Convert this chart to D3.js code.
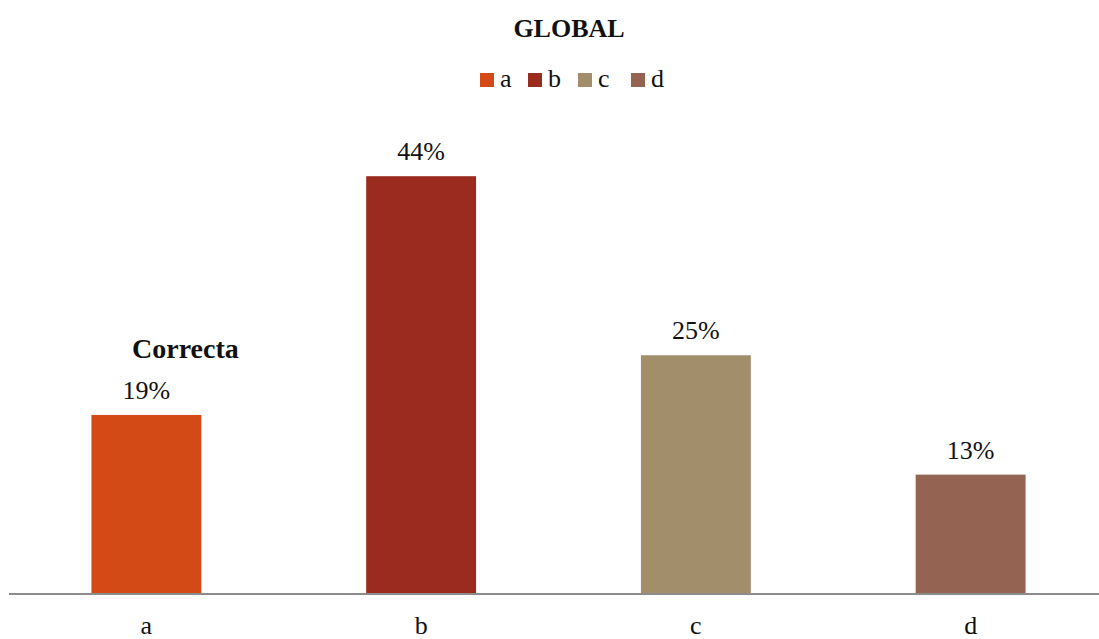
<!DOCTYPE html>
<html>
<head>
<meta charset="utf-8">
<script src="https://cdn.jsdelivr.net/npm/d3@7"></script>
<style>
  html, body { margin: 0; padding: 0; background: #fff; }
  svg { display: block; }
  svg text { font-family: "Liberation Serif", "DejaVu Serif", serif; }
</style>
</head>
<body>
<svg id="chart" width="1099" height="639"></svg>
<script>
const categories = ["a", "b", "c", "d"];
const values = [18.75, 43.75, 25, 12.5];
const valueLabels = ["19%", "44%", "25%", "13%"];
const colors = ["#D34A17", "#9B2B1F", "#A38E6B", "#946351"];
const title = "GLOBAL";
const correctLabel = "Correcta";
const correctCategory = "a";

const FONT = "Liberation Serif, DejaVu Serif, serif";
const svg = d3.select("#chart");
const baseY = 594;

const x = d3.scaleBand().domain(categories).range([9, 1108]).paddingInner(0.6).paddingOuter(0.3);
const y = d3.scaleLinear().domain([0, 50]).range([baseY, 116.5]);

// bars
svg.selectAll("rect.bar").data(categories).join("rect")
  .attr("class", "bar")
  .attr("x", d => x(d))
  .attr("width", x.bandwidth())
  .attr("y", (d, i) => y(values[i]))
  .attr("height", (d, i) => baseY - y(values[i]))
  .attr("fill", (d, i) => colors[i]);

// value labels
svg.selectAll("text.val").data(categories).join("text")
  .attr("class", "val")
  .attr("x", d => x(d) + x.bandwidth() / 2)
  .attr("y", (d, i) => y(values[i]) - 16)
  .attr("text-anchor", "middle")
  .attr("font-family", FONT)
  .attr("font-size", 26)
  .attr("fill", "#111")
  .text((d, i) => valueLabels[i]);

// Correcta
svg.append("text")
  .attr("x", x(correctCategory) + x.bandwidth() / 2 + 39)
  .attr("y", y(values[categories.indexOf(correctCategory)]) - 57)
  .attr("text-anchor", "middle")
  .attr("font-family", FONT)
  .attr("font-size", 28)
  .attr("font-weight", "bold")
  .attr("fill", "#111")
  .text(correctLabel);

// x axis
const xAxis = d3.axisBottom(x).tickSize(0).tickPadding(22);
const gx = svg.append("g").attr("transform", `translate(0,${baseY})`).call(xAxis);
gx.attr("font-family", FONT);
gx.select(".domain").attr("stroke", "#8c8c8c").attr("stroke-width", 2).attr("d", `M9,0H1099`);
gx.selectAll("text").attr("font-size", 26).attr("font-family", FONT).attr("fill", "#111");

// title
svg.append("text")
  .attr("x", 569).attr("y", 37)
  .attr("text-anchor", "middle")
  .attr("font-family", FONT)
  .attr("font-size", 26)
  .attr("font-weight", "bold")
  .attr("fill", "#111")
  .text(title);

// legend
const legend = svg.append("g").attr("transform", "translate(480,80)");
const legendX = [0, 48, 98, 151];
const items = legend.selectAll("g").data(categories).join("g")
  .attr("transform", (d, i) => `translate(${legendX[i]},0)`);
items.append("rect").attr("x", 0).attr("y", -7).attr("width", 14).attr("height", 14)
  .attr("fill", (d, i) => colors[i]);
items.append("text").attr("x", 20).attr("y", 7).attr("font-size", 26)
  .attr("font-family", FONT).attr("fill", "#111")
  .text(d => d);
</script>
</body>
</html>
